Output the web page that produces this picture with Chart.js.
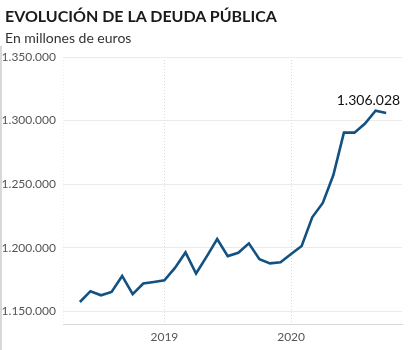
<!DOCTYPE html>
<html lang="es">
<head>
<meta charset="utf-8">
<title>Evolución de la deuda pública</title>
<script src="https://cdn.jsdelivr.net/npm/chart.js@4.4.1/dist/chart.umd.min.js"></script>
<style>
  html, body { margin: 0; padding: 0; background: #fff; }
  #wrap { position: relative; width: 412px; height: 350px; overflow: hidden; }
  .titulo { position: absolute; left: 5px; top: 6px; font: bold 16px Lato, sans-serif; color: #1a1a1a; white-space: nowrap; }
  .sub { position: absolute; left: 5px; top: 29px; font: 14px Lato, sans-serif; color: #333; white-space: nowrap; }
  .borde { position: absolute; left: 0; top: 46px; width: 2px; height: 304px; background: #d8d8d8; }
  canvas { position: absolute; left: 0; top: 0; }
</style>
</head>
<body>
<div id="wrap">
  <canvas id="grafico" width="412" height="350"></canvas>
  <div class="borde"></div>
  <div class="titulo">EVOLUCIÓN DE LA DEUDA PÚBLICA</div>
  <div class="sub">En millones de euros</div>
</div>
<script>
// meses (mayo 2018 - octubre 2020)
const meses = [
  '2018-05', '2018-06', '2018-07', '2018-08', '2018-09', '2018-10', '2018-11', '2018-12',
  '2019-01', '2019-02', '2019-03', '2019-04', '2019-05', '2019-06', '2019-07', '2019-08',
  '2019-09', '2019-10', '2019-11', '2019-12',
  '2020-01', '2020-02', '2020-03', '2020-04', '2020-05', '2020-06', '2020-07', '2020-08',
  '2020-09', '2020-10'
];
// deuda en millones de euros
const deuda = [
  1157300, 1165800, 1162600, 1165200, 1177800, 1163400, 1171800, 1173100,
  1174300, 1184100, 1196300, 1179700, 1193000, 1206800, 1193400, 1196000,
  1203400, 1191000, 1187700, 1188600,
  1195000, 1201300, 1223900, 1235200, 1257200, 1290500, 1290500, 1297700,
  1307700, 1306028
];
const yTicks = [1150000, 1200000, 1250000, 1300000, 1350000];

const fmt = (v) => String(Math.round(v)).replace(/\B(?=(\d{3})+(?!\d))/g, '.');

// etiqueta del último valor
const etiquetaFinal = {
  id: 'etiquetaFinal',
  afterDatasetsDraw(chart) {
    const meta = chart.getDatasetMeta(0);
    const pt = meta.data[meta.data.length - 1];
    const ctx = chart.ctx;
    ctx.save();
    ctx.font = '14px Lato, sans-serif';
    ctx.fillStyle = '#111';
    ctx.textAlign = 'right';
    ctx.textBaseline = 'alphabetic';
    ctx.fillText(fmt(deuda[deuda.length - 1]), pt.x + 14, pt.y - 8);
    ctx.restore();
  }
};

new Chart(document.getElementById('grafico'), {
  type: 'line',
  data: {
    datasets: [{
      data: deuda.map((v, i) => ({ x: i, y: v })),
      borderColor: '#125283',
      borderWidth: 2.6,
      pointRadius: 0,
      tension: 0,
      fill: false
    }]
  },
  options: {
    responsive: false,
    animation: false,
    layout: { padding: { top: 57, right: 10, left: 0, bottom: 0 } },
    plugins: { legend: { display: false }, tooltip: { enabled: false } },
    scales: {
      x: {
        type: 'linear',
        min: -1.6,
        max: 30.5,
        afterBuildTicks: (scale) => {
          const t = [{ value: -1.6 }];
          meses.forEach((m, i) => { if (m.endsWith('-01')) t.push({ value: i }); });
          scale.ticks = t;
        },
        afterFit: (scale) => { scale.height = 26; },
        ticks: {
          autoSkip: false,
          maxRotation: 0,
          padding: 6,
          color: '#555',
          font: { family: 'Lato', size: 12 },
          callback: (v) => (meses[v] ? meses[v].slice(0, 4) : '')
        },
        grid: {
          color: (c) => (c.tick && c.tick.value < 0 ? '#efefef' : '#d9d9d9'),
          lineWidth: 1,
          drawTicks: false
        },
        border: { display: true, color: '#d9d9d9', dash: [1, 2] }
      },
      y: {
        min: 1140000,
        max: 1350000,
        afterBuildTicks: (scale) => { scale.ticks = yTicks.map((v) => ({ value: v })); },
        afterFit: (scale) => { scale.width = 63; },
        ticks: {
          padding: 7,
          color: '#555',
          font: { family: 'Lato', size: 12 },
          callback: (v) => fmt(v)
        },
        grid: { color: '#ebebeb', lineWidth: 1, drawTicks: false },
        border: { display: false }
      }
    }
  },
  plugins: [etiquetaFinal]
});
</script>
</body>
</html>
